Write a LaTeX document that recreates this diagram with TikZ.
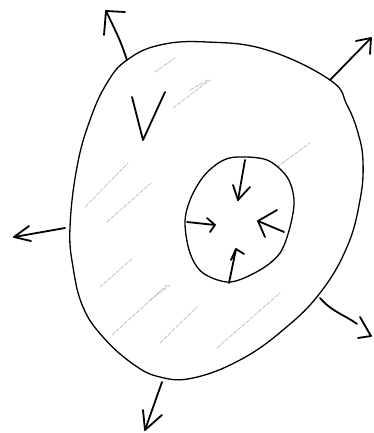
\documentclass[tikz,border=0pt]{standalone}
\begin{document}
\begin{tikzpicture}[x=1pt,y=-1pt,
  outline/.style={line width=1.3pt,line join=round,line cap=round},
  arr/.style={line width=1.8pt,line join=round,line cap=round},
  hatch/.style={gray!55,line width=0.7pt,dash pattern=on 4pt off 1.5pt,line cap=round}]
\useasboundingbox (0,0) rectangle (374,433);
% hatching
\foreach \a/\b in {
 {(155,72)}/{(175,58)}, {(173,108)}/{(210,80)}, {(85,207)}/{(128,163)},
 {(107,222)}/{(152,182)}, {(100,287)}/{(133,258)}, {(112,335)}/{(167,285)},
 {(160,343)}/{(197,307)}, {(217,348)}/{(280,293)}, {(277,167)}/{(310,143)},
 {(270,262)}/{(285,250)}, {(150,300)}/{(170,285)}, {(190,90)}/{(208,80)}}
 \draw[hatch] \a -- \b;
% outer blob
\draw[outline] plot[smooth cycle,tension=0.7] coordinates {
 (127,60) (160,45) (207,42) (267,50) (330,80) (347,105) (358,133) (363,162)
 (360,200) (347,247) (320,293) (283,330) (240,360) (193,378) (160,377)
 (133,364) (103,337) (83,307) (73,267) (70,227) (77,167) (90,120) (107,83)};
% inner oval
\draw[outline] plot[smooth cycle,tension=0.55] coordinates {
 (237,157) (267,160) (287,177) (294,200) (290,227) (280,253) (260,270)
 (230,282) (203,273) (190,253) (185,223) (190,200) (203,177) (220,162)};
% V mark
\draw[arr] (132,97) -- (143,140) -- (165,92);
% outer arrows
\coordinate (o1s) at (127,60); \coordinate (o1t) at (106,11);
\draw[arr] (o1s) .. controls (120,40) .. (o1t);
\draw[arr] (104,35) -- (o1t) -- (125,12);
\coordinate (o2s) at (330,80); \coordinate (o2t) at (371,38);
\draw[arr] (o2s) -- (o2t);
\draw[arr] (356,41) -- (o2t) -- (370,54);
\coordinate (o3s) at (65,228); \coordinate (o3t) at (14,237);
\draw[arr] (o3s) -- (o3t);
\draw[arr] (29,226) -- (o3t) -- (31,241);
\coordinate (o4s) at (320,298); \coordinate (o4t) at (371,336);
\draw[arr] (o4s) .. controls (332,312) and (345,315) .. (357,324);
\draw[arr] (360,317) -- (o4t) -- (358,338);
\coordinate (o5s) at (162,382); \coordinate (o5t) at (145,430);
\draw[arr] (o5s) -- (o5t);
\draw[arr] (143,410) -- (o5t) -- (162,415);
% inner arrows
\coordinate (i1s) at (245,160); \coordinate (i1t) at (238,200);
\draw[arr] (i1s) -- (i1t);
\draw[arr] (233,185) -- (i1t) -- (250,187);
\coordinate (i2s) at (187,222); \coordinate (i2t) at (215,225);
\draw[arr] (i2s) -- (i2t);
\draw[arr] (207,218) -- (i2t) -- (210,232);
\coordinate (i3s) at (284,232); \coordinate (i3t) at (258,221);
\draw[arr] (i3s) -- (i3t);
\draw[arr] (277,210) -- (i3t) -- (265,237);
\coordinate (i4s) at (229,283); \coordinate (i4t) at (236,249);
\draw[arr] (i4s) -- (i4t);
\draw[arr] (231,260) -- (i4t) -- (244,254);
\end{tikzpicture}
\end{document}
